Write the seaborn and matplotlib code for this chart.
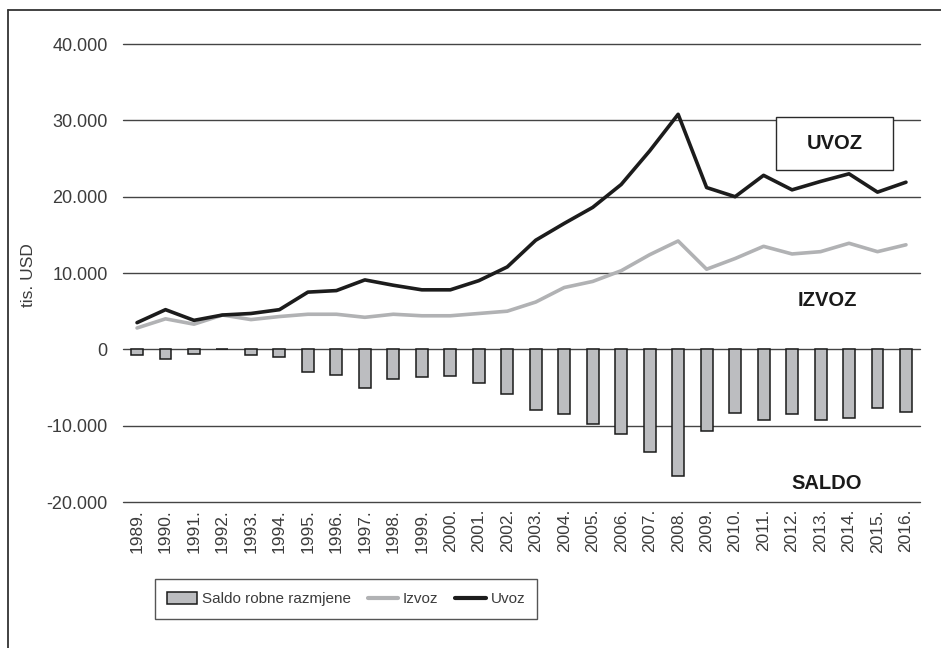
"""Robna razmjena 1989-2016: izvoz, uvoz i saldo (tis. USD)."""
import matplotlib
matplotlib.use("Agg")
import matplotlib.pyplot as plt
import pandas as pd
import seaborn as sns
from matplotlib.lines import Line2D
from matplotlib.patches import Patch, Rectangle

YEARS = [f"{y}." for y in range(1989, 2017)]

# tis. USD
UVOZ = [3.5, 5.2, 3.8, 4.5, 4.7, 5.2, 7.5, 7.7, 9.1, 8.4, 7.8, 7.8, 9.0, 10.8,
        14.3, 16.5, 18.6, 21.6, 26.0, 30.8, 21.2, 20.0, 22.8, 20.9, 22.0, 23.0,
        20.6, 21.9]
IZVOZ = [2.8, 4.0, 3.3, 4.5, 3.9, 4.3, 4.6, 4.6, 4.2, 4.6, 4.4, 4.4, 4.7, 5.0,
         6.2, 8.1, 8.9, 10.3, 12.4, 14.2, 10.5, 11.9, 13.5, 12.5, 12.8, 13.9,
         12.8, 13.7]
SALDO = [-0.8, -1.2, -0.6, 0.1, -0.8, -1.0, -3.0, -3.4, -5.0, -3.9, -3.6, -3.5,
         -4.4, -5.9, -8.0, -8.5, -9.8, -11.1, -13.5, -16.6, -10.7, -8.3, -9.3,
         -8.5, -9.2, -9.0, -7.7, -8.2]

Y_TICKS = [-20000, -10000, 0, 10000, 20000, 30000, 40000]
Y_TICK_LABELS = ["-20.000", "-10.000", "0", "10.000", "20.000", "30.000", "40.000"]

df = pd.DataFrame({
    "godina": YEARS,
    "uvoz": [v * 1000 for v in UVOZ],
    "izvoz": [v * 1000 for v in IZVOZ],
    "saldo": [v * 1000 for v in SALDO],
})

sns.set_style("white")
plt.rcParams["font.family"] = ["Liberation Sans", "DejaVu Sans"]

BAR_GREY = "#bcbdc0"
LINE_GREY = "#b1b2b4"
LINE_BLACK = "#1c1c1c"
TEXT = "#3c3c3c"

fig = plt.figure(figsize=(9.41, 6.48), dpi=100)
ax = fig.add_axes([0.1305, 0.2253, 0.8474, 0.7067])

for t in Y_TICKS:
    ax.axhline(t, color="#444444", lw=1.0, zorder=0, clip_on=False)

sns.barplot(data=df, x="godina", y="saldo", color=BAR_GREY, width=0.42,
            edgecolor="#1a1a1a", linewidth=1.1, saturation=1, ax=ax, zorder=2)
sns.lineplot(data=df, x="godina", y="izvoz", color=LINE_GREY, lw=2.6,
             sort=False, ax=ax, zorder=3)
sns.lineplot(data=df, x="godina", y="uvoz", color=LINE_BLACK, lw=2.6,
             sort=False, ax=ax, zorder=4)

ax.set_xlim(-0.5, len(YEARS) - 0.5)
ax.set_ylim(-20000, 40000)
ax.set_yticks(Y_TICKS)
ax.set_yticklabels(Y_TICK_LABELS, fontsize=13, color=TEXT)
ax.tick_params(axis="y", length=0, pad=11)
ax.tick_params(axis="x", length=0, pad=5, labelrotation=90, labelsize=12.5,
               labelcolor=TEXT)
ax.set_xlabel("")
ax.set_ylabel("tis. USD", fontsize=12.5, color=TEXT)
ax.yaxis.set_label_coords(-0.109, 0.495)
sns.despine(ax=ax, left=True, bottom=True)

# series labels inside the plot
ax.add_patch(Rectangle((0.819, 0.725), 0.147, 0.116, transform=ax.transAxes,
                       facecolor="white", edgecolor="#2a2a2a", lw=1.0, zorder=5))
ax.text(0.8925, 0.783, "UVOZ", transform=ax.transAxes, ha="center",
        va="center", fontsize=14.5, fontweight="bold", color="#1a1a1a", zorder=6)
ax.text(24.23, 6400, "IZVOZ", ha="center", va="center", fontsize=14.5,
        fontweight="bold", color="#1a1a1a")
ax.text(24.23, -17550, "SALDO", ha="center", va="center", fontsize=14.5,
        fontweight="bold", color="#1a1a1a")

handles = [
    Patch(facecolor=BAR_GREY, edgecolor="#1a1a1a", lw=1.1),
    Line2D([], [], color=LINE_GREY, lw=3),
    Line2D([], [], color=LINE_BLACK, lw=3),
]
leg = fig.legend(handles, ["Saldo robne razmjene", "Izvoz", "Uvoz"],
                 loc="center", bbox_to_anchor=(0.3677, 0.0756), ncol=3,
                 frameon=True, fancybox=False, fontsize=11, handlelength=2.0,
                 handleheight=0.9, columnspacing=1.1, borderpad=0.8,
                 handletextpad=0.3, borderaxespad=0)
leg.get_frame().set_edgecolor("#2a2a2a")
leg.get_frame().set_linewidth(1.0)
for t in leg.get_texts():
    t.set_color(TEXT)

# outer frame (top and left edges visible in the reference)
fig.add_artist(Line2D([8 / 941, 1.0], [1 - 10 / 648] * 2, color="#333333",
                      lw=1.3, transform=fig.transFigure))
fig.add_artist(Line2D([8 / 941] * 2, [0.0, 1 - 10 / 648], color="#333333",
                      lw=1.3, transform=fig.transFigure))

fig.savefig("out.png", dpi=100)
